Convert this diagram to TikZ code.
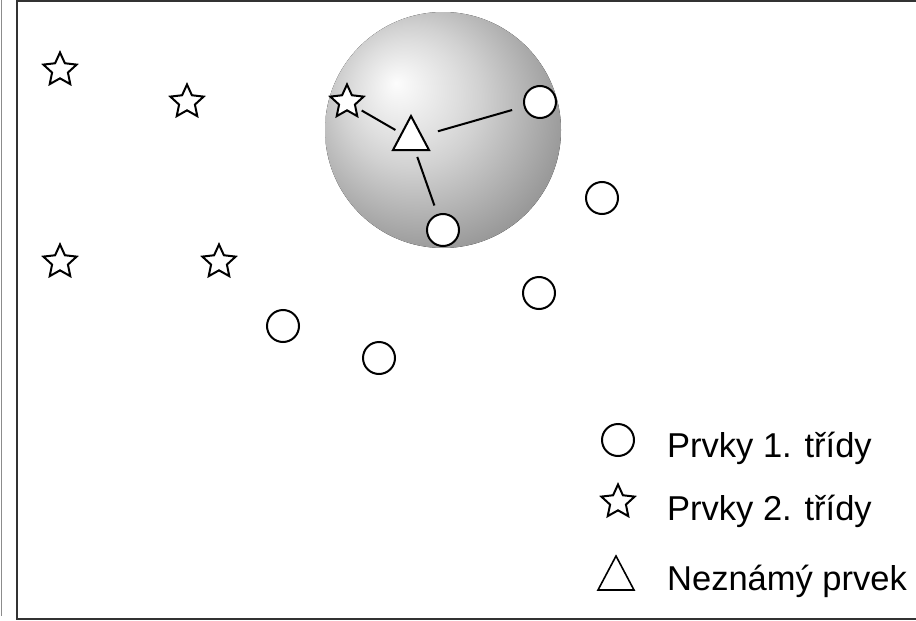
\documentclass[tikz,border=0pt]{standalone}
\usepackage{fontspec}
\setmainfont{Liberation Sans}
\usetikzlibrary{shapes.geometric}
\pgfdeclareradialshading{knnball}{\pgfpoint{-10bp}{10bp}}{color(0bp)=(black!1); color(11bp)=(black!13); color(15bp)=(black!18); color(30bp)=(black!40); color(50bp)=(black!55)}
\begin{document}
\begin{tikzpicture}[x=1pt,y=-1pt,
  cls1/.style={circle, draw, line width=2pt, fill=white, minimum size=32pt, inner sep=0pt},
  cls2/.style={star, star points=5, star point ratio=2.1, draw, line width=2pt, fill=white, minimum size=35pt, inner sep=0pt},
  unk/.style={draw, line width=2pt, fill=white, line join=miter},
  link/.style={line width=2pt},
  frame/.style={line width=2pt, draw=black!80},
  legtext/.style={anchor=base west, inner sep=0pt, font=\fontsize{34.5}{40}\selectfont}]
\useasboundingbox (0,0) rectangle (916,621);
% frame
\draw[black!45, line width=1.2pt] (1.5,0) -- (1.5,616);
\draw[frame] (916,1) -- (16.5,1) -- (16.5,618.5) -- (916,618.5);
% ball
\fill[shading=knnball] (443,130) circle[radius=118pt];
% class 2
\node[cls2] (s1) at (60,70) {};
\node[cls2] (s2) at (187,102) {};
\node[cls2] (s3) at (60,262) {};
\node[cls2] (s4) at (219,262) {};
\node[cls2] (s5) at (347,102) {};
% class 1
\node[cls1] (c1) at (540,102) {};
\node[cls1] (c2) at (443,230) {};
\node[cls1] (c3) at (602,198) {};
\node[cls1] (c4) at (539,293) {};
\node[cls1] (c5) at (283,326) {};
\node[cls1] (c6) at (379,358) {};
% unknown
\draw[unk] (411,116) -- (429,150) -- (393,150) -- cycle;
\coordinate (t) at (411,139);
\draw[link, shorten <=18pt, shorten >=17pt] (t) -- (s5.center);
\draw[link, shorten <=28pt, shorten >=29pt] (t) -- (c1.center);
\draw[link, shorten <=19pt, shorten >=26pt] (t) -- (c2.center);
% legend
\node[cls1] (lc) at (618,440) {};
\node[cls2] (ls) at (618,502) {};
\draw[unk, line width=1.6pt] (616,556) -- (634,590) -- (598,590) -- cycle;
\node[legtext] (l1) at (667,457) {Prvky 1. třídy};
\node[legtext] (l2) at (667,520) {Prvky 2. třídy};
\node[legtext] (l3) at (667,590) {Neznámý prvek};
\end{tikzpicture}
\end{document}
